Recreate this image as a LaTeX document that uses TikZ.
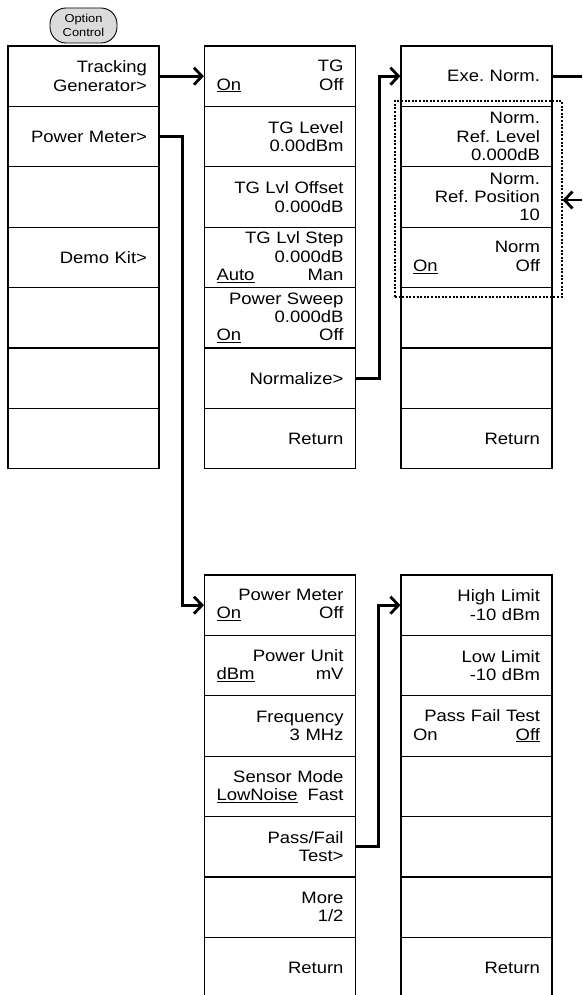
\documentclass[tikz,border=0pt]{standalone}
\usepackage{fontspec}
\setmainfont[FakeStretch=1.12]{Liberation Sans}
\usetikzlibrary{arrows.meta}
\newcommand{\lrpair}[2]{\makebox[\linewidth][l]{#1\hfill #2}}
\frenchspacing
\begin{document}
\begin{tikzpicture}[x=1pt,y=-1pt,
  cell/.style={draw, line width=1.2pt, minimum width=151pt, minimum height=60.4pt,
    text width=127pt, inner xsep=12pt, inner ysep=0pt, align=right,
    font=\fontsize{16.5}{18.3}\selectfont\frenchspacing},
  optbtn/.style={draw, line width=0.9pt, fill=gray!28, rounded corners=16pt,
    minimum width=67pt, minimum height=35pt, inner sep=0pt, align=center,
    font=\fontsize{11.5}{14}\selectfont},
  grpbox/.style={draw, line width=1.1pt, dash pattern=on 2pt off 1.6pt,
    minimum width=167pt, minimum height=196pt, inner sep=0pt},
  conn/.style={line width=2.8pt},
  arr/.style={conn, -{Straight Barb[length=8pt,width=17pt]}}
]
\path[use as bounding box, clip] (0,0) rectangle (582,995);
\coordinate (R) at (582,0);

% option control button
\node[optbtn] (opt) at (83.5,25.5) {Option\\Control};

% column 1
\node[cell] (c1r1) at (83.5,76.2) {Tracking\\Generator>};
\node[cell] (c1r2) at (83.5,136.6) {Power Meter>};
\node[cell] (c1r3) at (83.5,197.0) {};
\node[cell] (c1r4) at (83.5,257.4) {Demo Kit>};
\node[cell] (c1r5) at (83.5,317.8) {};
\node[cell] (c1r6) at (83.5,378.2) {};
\node[cell] (c1r7) at (83.5,438.6) {};

% column 2
\node[cell] (c2r1) at (280,76.2) {TG\\\lrpair{\underline{On}}{Off}};
\node[cell] (c2r2) at (280,136.6) {TG Level\\0.00dBm};
\node[cell] (c2r3) at (280,197.0) {TG Lvl Offset\\0.000dB};
\node[cell] (c2r4) at (280,257.4) {TG Lvl Step\\0.000dB\\\lrpair{\underline{Auto}}{Man}};
\node[cell] (c2r5) at (280,317.8) {Power Sweep\\0.000dB\\\lrpair{\underline{On}}{Off}};
\node[cell] (c2r6) at (280,378.2) {Normalize>};
\node[cell] (c2r7) at (280,438.6) {Return};

% column 3
\node[cell] (c3r1) at (476.5,76.2) {Exe. Norm.};
\node[cell] (c3r2) at (476.5,136.6) {Norm.\\Ref. Level\\0.000dB};
\node[cell] (c3r3) at (476.5,197.0) {Norm.\\Ref. Position\\10};
\node[cell] (c3r4) at (476.5,257.4) {Norm\\\lrpair{\underline{On}}{Off}};
\node[cell] (c3r5) at (476.5,317.8) {};
\node[cell] (c3r6) at (476.5,378.2) {};
\node[cell] (c3r7) at (476.5,438.6) {Return};

\node[grpbox] (grp) at (478.5,199) {};

% lower column 1
\node[cell] (d1r1) at (280,605.2) {Power Meter\\\lrpair{\underline{On}}{Off}};
\node[cell] (d1r2) at (280,665.6) {Power Unit\\\lrpair{\underline{dBm}}{mV}};
\node[cell] (d1r3) at (280,726.0) {Frequency\\3 MHz};
\node[cell] (d1r4) at (280,786.4) {Sensor Mode\\\lrpair{\underline{LowNoise}}{Fast}};
\node[cell] (d1r5) at (280,846.8) {Pass/Fail\\Test>};
\node[cell] (d1r6) at (280,907.2) {More\\1/2};
\node[cell] (d1r7) at (280,967.6) {Return};

% lower column 2
\node[cell] (d2r1) at (476.5,605.2) {High Limit\\-10 dBm};
\node[cell] (d2r2) at (476.5,665.6) {Low Limit\\-10 dBm};
\node[cell] (d2r3) at (476.5,726.0) {Pass Fail Test\\\lrpair{On}{\underline{Off}}};
\node[cell] (d2r4) at (476.5,786.4) {};
\node[cell] (d2r5) at (476.5,846.8) {};
\node[cell] (d2r6) at (476.5,907.2) {};
\node[cell] (d2r7) at (476.5,967.6) {Return};

% connectors
\draw[arr] (c1r1.east) -- (c2r1.west);
\draw[arr] (c1r2.east) -- ++(23,0) |- (d1r1.west);
\draw[arr] (c2r6.east) -- ++(23,0) |- (c3r1.west);
\draw[conn] (c3r1.east) -- (c3r1.east -| R);
\draw[arr] ([yshift=-3pt]c3r3.east -| R) -- ([yshift=-3pt]c3r3.east -| grp.east);
\draw[arr] (d1r5.east) -- ++(22,0) |- (d2r1.west);
\end{tikzpicture}
\end{document}
